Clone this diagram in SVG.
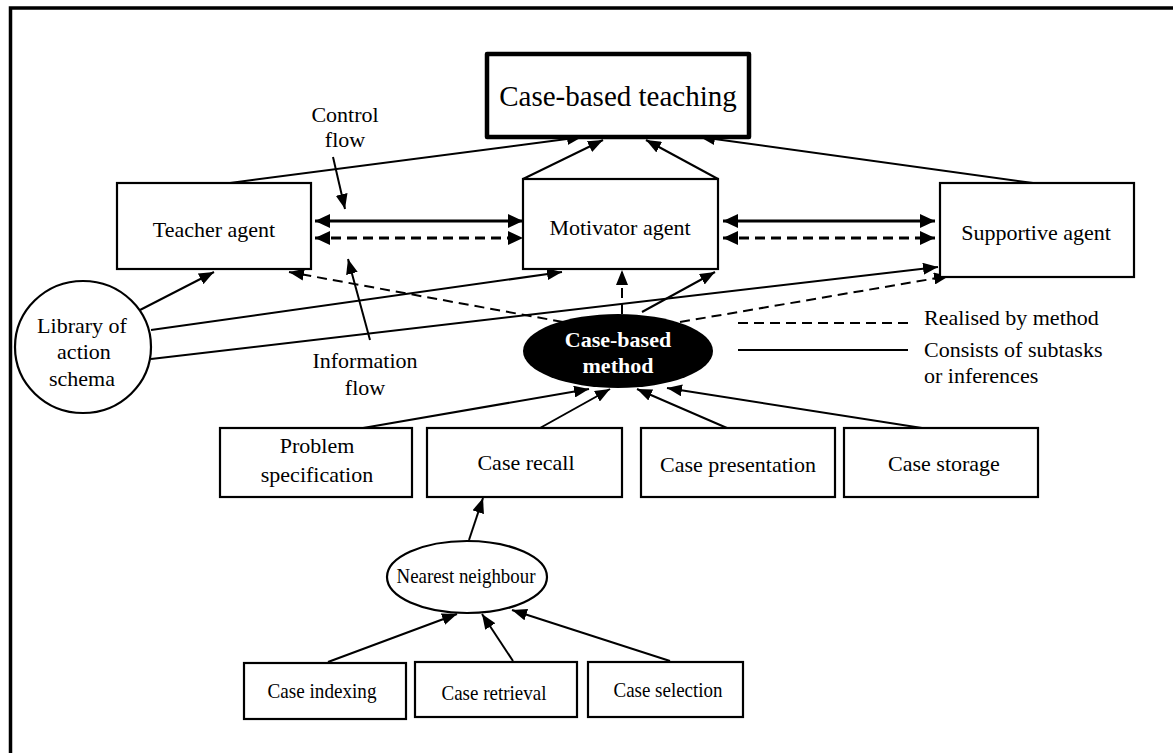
<svg xmlns="http://www.w3.org/2000/svg" width="1173" height="753" viewBox="0 0 1173 753">
  <style>
    text { font-family: "Liberation Serif", "Times New Roman", serif; font-size: 22px; fill: #000; text-anchor: middle; }
    .title { font-size: 29px; }
    .white { fill: #fff; font-weight: bold; }
    .left { text-anchor: start; }
    .box { fill: #fff; stroke: #000; stroke-width: 2.2; }
    .thick { fill: #fff; stroke: #000; stroke-width: 4.5; stroke-linejoin: round; }
    .ln { fill: none; stroke: #000; stroke-width: 2; }
    .bold { stroke-width: 3; }
    .dash { stroke-dasharray: 10 6; }
  </style>
  <defs>
    <marker id="arr" markerUnits="userSpaceOnUse" markerWidth="15" markerHeight="12" refX="15" refY="6" orient="auto-start-reverse" viewBox="0 0 15 12">
      <path d="M0,0 L15,6 L0,12 z" fill="#000"/>
    </marker>
    <marker id="arrBig" markerUnits="userSpaceOnUse" markerWidth="15" markerHeight="14" refX="15" refY="7" orient="auto-start-reverse" viewBox="0 0 15 14">
      <path d="M0,0 L15,7 L0,14 z" fill="#000"/>
    </marker>
  </defs>

  <!-- outer frame (left and top edges) -->
  <path d="M10.5,753 L10.5,8 L1173,8" fill="none" stroke="#000" stroke-width="3.5"/>

  <!-- connectors -->
  <g id="connectors">
    <!-- into Case-based teaching -->
    <line class="ln" x1="230" y1="183" x2="582" y2="137" marker-end="url(#arr)"/>
    <line class="ln" x1="523" y1="179" x2="603" y2="140" marker-end="url(#arr)"/>
    <line class="ln" x1="718" y1="179" x2="646" y2="140" marker-end="url(#arr)"/>
    <line class="ln" x1="1033" y1="183" x2="700" y2="137" marker-end="url(#arr)"/>

    <!-- control and information flow between agents -->
    <line class="ln bold" x1="315" y1="221" x2="523" y2="221" marker-start="url(#arrBig)" marker-end="url(#arrBig)"/>
    <line class="ln bold dash" x1="315" y1="238" x2="523" y2="238" marker-start="url(#arrBig)" marker-end="url(#arrBig)"/>
    <line class="ln bold" x1="723" y1="221" x2="935" y2="221" marker-start="url(#arrBig)" marker-end="url(#arrBig)"/>
    <line class="ln bold dash" x1="723" y1="238" x2="935" y2="238" marker-start="url(#arrBig)" marker-end="url(#arrBig)"/>

    <!-- label pointers -->
    <line class="ln" x1="333" y1="157" x2="345" y2="209" marker-end="url(#arr)"/>
    <line class="ln" x1="370" y1="340" x2="348" y2="259" marker-end="url(#arr)"/>

    <!-- library of action schema to agents -->
    <line class="ln" x1="140" y1="310" x2="214" y2="272" marker-end="url(#arr)"/>
    <line class="ln" x1="151" y1="330" x2="562" y2="272" marker-end="url(#arr)"/>
    <line class="ln" x1="151" y1="359" x2="938" y2="267" marker-end="url(#arr)"/>

    <!-- case-based method realises / feeds agents -->
    <line class="ln dash" x1="563" y1="322" x2="289" y2="272" marker-end="url(#arr)"/>
    <line class="ln dash" x1="680" y1="322" x2="949" y2="276" marker-end="url(#arr)"/>
    <line class="ln dash" x1="622" y1="314" x2="622" y2="270" marker-end="url(#arr)"/>
    <line class="ln" x1="642" y1="312" x2="715" y2="272" marker-end="url(#arr)"/>

    <!-- subtasks into case-based method -->
    <line class="ln" x1="363" y1="428" x2="589" y2="389" marker-end="url(#arr)"/>
    <line class="ln" x1="540" y1="428" x2="610" y2="389" marker-end="url(#arr)"/>
    <line class="ln" x1="727" y1="428" x2="637" y2="389" marker-end="url(#arr)"/>
    <line class="ln" x1="922" y1="428" x2="667" y2="388" marker-end="url(#arr)"/>

    <!-- nearest neighbour chain -->
    <line class="ln" x1="469" y1="540" x2="483" y2="498" marker-end="url(#arr)"/>
    <line class="ln" x1="328" y1="662" x2="457" y2="614" marker-end="url(#arr)"/>
    <line class="ln" x1="513" y1="661" x2="482" y2="614" marker-end="url(#arr)"/>
    <line class="ln" x1="670" y1="661" x2="512" y2="610" marker-end="url(#arr)"/>

    <!-- legend lines -->
    <line class="ln dash" x1="738" y1="323" x2="908" y2="323"/>
    <line class="ln" x1="738" y1="350" x2="908" y2="350"/>
  </g>

  <!-- nodes -->
  <g id="teaching">
    <rect class="thick" x="487" y="54" width="262" height="83"/>
    <text class="title" x="618" y="106">Case-based teaching</text>
  </g>
  <g id="teacher">
    <rect class="box" x="117" y="183" width="194" height="86"/>
    <text x="214" y="237">Teacher agent</text>
  </g>
  <g id="motivator">
    <rect class="box" x="523" y="179" width="195" height="90"/>
    <text x="620" y="235">Motivator agent</text>
  </g>
  <g id="supportive">
    <rect class="box" x="940" y="183" width="194" height="94"/>
    <text x="1036" y="240">Supportive agent</text>
  </g>
  <g id="library">
    <ellipse class="box" cx="83" cy="347" rx="68" ry="66"/>
    <text x="82" y="333">Library of</text>
    <text x="84" y="359">action</text>
    <text x="82" y="386">schema</text>
  </g>
  <g id="method">
    <ellipse cx="618" cy="351" rx="95" ry="37" fill="#000"/>
    <text class="white" x="618" y="347">Case-based</text>
    <text class="white" x="618" y="373">method</text>
  </g>
  <g id="problem">
    <rect class="box" x="220" y="428" width="192" height="69"/>
    <text x="317" y="453">Problem</text>
    <text x="317" y="482">specification</text>
  </g>
  <g id="recall">
    <rect class="box" x="427" y="428" width="195" height="69"/>
    <text x="526" y="470">Case recall</text>
  </g>
  <g id="presentation">
    <rect class="box" x="641" y="428" width="194" height="69"/>
    <text x="738" y="472">Case presentation</text>
  </g>
  <g id="storage">
    <rect class="box" x="844" y="428" width="194" height="69"/>
    <text x="944" y="471">Case storage</text>
  </g>
  <g id="nearest">
    <ellipse class="box" cx="467" cy="577" rx="80" ry="36"/>
    <text x="466" y="583" textLength="139" lengthAdjust="spacingAndGlyphs">Nearest neighbour</text>
  </g>
  <g id="indexing">
    <rect class="box" x="244" y="663" width="162" height="56"/>
    <text x="322" y="698" textLength="109" lengthAdjust="spacingAndGlyphs">Case indexing</text>
  </g>
  <g id="retrieval">
    <rect class="box" x="415" y="662" width="162" height="55"/>
    <text x="494" y="700" textLength="105" lengthAdjust="spacingAndGlyphs">Case retrieval</text>
  </g>
  <g id="selection">
    <rect class="box" x="588" y="662" width="155" height="55"/>
    <text x="668" y="697" textLength="109" lengthAdjust="spacingAndGlyphs">Case selection</text>
  </g>

  <!-- free labels -->
  <g id="labels">
    <text x="345" y="122">Control</text>
    <text x="345" y="147">flow</text>
    <text x="365" y="368">Information</text>
    <text x="365" y="395">flow</text>
    <text class="left" x="924" y="325">Realised by method</text>
    <text class="left" x="924" y="357">Consists of subtasks</text>
    <text class="left" x="924" y="383">or inferences</text>
  </g>
</svg>
